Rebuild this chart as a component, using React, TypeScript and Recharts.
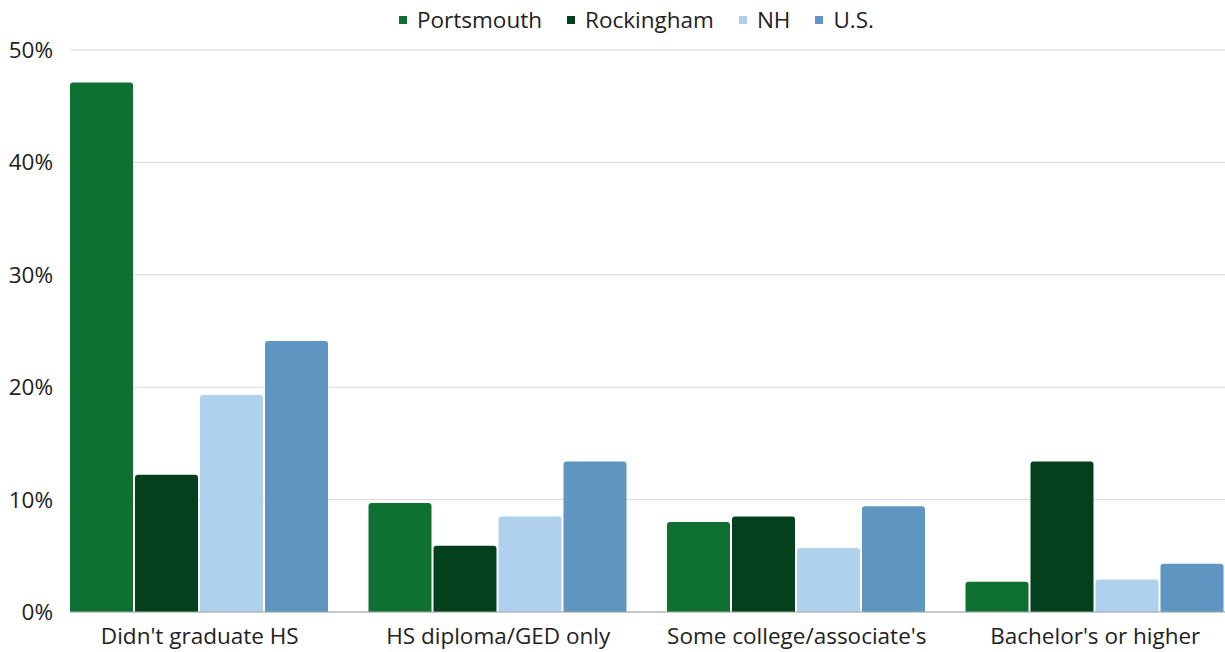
import { BarChart, Bar, XAxis, YAxis, CartesianGrid, Legend } from 'recharts';

const categories = ["Didn't graduate HS", 'HS diploma/GED only', "Some college/associate's", "Bachelor's or higher"];
const portsmouth = [47.1, 9.7, 8.0, 2.7];
const rockingham = [12.2, 5.9, 8.5, 13.4];
const nh = [19.3, 8.5, 5.7, 2.9];
const us = [24.1, 13.4, 9.4, 4.3];
const yTicks = [0, 10, 20, 30, 40, 50];

const series = [
  { key: 'Portsmouth', values: portsmouth, color: '#0e7132' },
  { key: 'Rockingham', values: rockingham, color: '#04401b' },
  { key: 'NH', values: nh, color: '#b0d1ee' },
  { key: 'U.S.', values: us, color: '#5e95c1' },
];

const data = categories.map((name, i) => {
  const row: Record<string, string | number> = { name };
  series.forEach((s) => {
    row[s.key] = s.values[i];
  });
  return row;
});

const font = '"Open Sans", sans-serif';
const fontSize = 22.5;

function LegendContent() {
  return (
    <div
      style={{
        height: 50,
        boxSizing: 'border-box',
        display: 'flex',
        justifyContent: 'center',
        alignItems: 'flex-start',
        gap: 25,
        fontFamily: font,
        fontSize,
        lineHeight: '30px',
        color: '#222',
        paddingTop: 5,
        paddingLeft: 48,
      }}
    >
      {series.map((s) => (
        <span key={s.key} style={{ display: 'flex', alignItems: 'center' }}>
          <span style={{ width: 8, height: 8, background: s.color, marginRight: 10, display: 'inline-block' }} />
          {s.key}
        </span>
      ))}
    </div>
  );
}

export default function App() {
  return (
    <div style={{ position: 'absolute', left: 0, top: 0, background: '#fff' }}>
      <BarChart
        width={1225}
        height={652}
        data={data}
        margin={{ top: 0, right: 0, bottom: 0, left: 0 }}
        barCategoryGap={19.5}
        barGap={2}
      >
        <Legend verticalAlign="top" content={<LegendContent />} />
        <CartesianGrid vertical={false} stroke="#d9d9d9" />
        <XAxis
          dataKey="name"
          height={40}
          padding={{ left: -19.5, right: -19.5 }}
          tickLine={false}
          axisLine={{ stroke: '#a6a6a6' }}
          tick={{ fill: '#222', fontSize, fontFamily: font }}
          tickMargin={10}
          interval={0}
        />
        <YAxis
          width={70}
          domain={[0, 50]}
          ticks={yTicks}
          tickFormatter={(v) => `${v}%`}
          tickLine={false}
          axisLine={false}
          tick={{ fill: '#222', fontSize, fontFamily: font }}
          tickMargin={11}
        />
        {series.map((s) => (
          <Bar key={s.key} dataKey={s.key} fill={s.color} radius={[3, 3, 0, 0]} isAnimationActive={false} />
        ))}
      </BarChart>
    </div>
  );
}
